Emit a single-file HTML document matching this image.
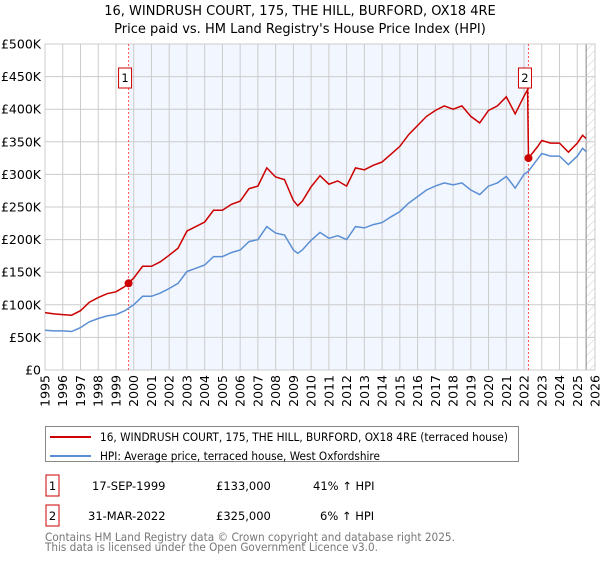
<!DOCTYPE html>
<html><head><meta charset="utf-8"><style>
body{margin:0;background:#fff;width:600px;height:560px;overflow:hidden;font-family:"DejaVu Sans","Liberation Sans",sans-serif}
svg text{font-family:"DejaVu Sans","Liberation Sans",sans-serif}
</style></head><body>
<svg id="c" width="600" height="560" xmlns="http://www.w3.org/2000/svg">
<defs><pattern id="hatch" width="6" height="6" patternUnits="userSpaceOnUse" patternTransform="rotate(45)"><line x1="0" y1="0" x2="0" y2="6" stroke="#ccc" stroke-width="1"/></pattern></defs>
<text x="300" y="15" text-anchor="middle" font-size="13">16, WINDRUSH COURT, 175, THE HILL, BURFORD, OX18 4RE</text>
<text x="300" y="33" text-anchor="middle" font-size="13">Price paid vs. HM Land Registry's House Price Index (HPI)</text>
<g id="plot"></g>
<g>
<rect x="45.5" y="426.5" width="473" height="35" fill="#fff" stroke="#888"/>
<line x1="50" y1="437" x2="91" y2="437" stroke="#cc0000" stroke-width="2"/>
<text x="100" y="441" font-size="11.5" textLength="408" lengthAdjust="spacingAndGlyphs">16, WINDRUSH COURT, 175, THE HILL, BURFORD, OX18 4RE (terraced house)</text>
<line x1="50" y1="456" x2="91" y2="456" stroke="#5b8fd4" stroke-width="2"/>
<text x="100" y="460" font-size="11.5" textLength="280" lengthAdjust="spacingAndGlyphs">HPI: Average price, terraced house, West Oxfordshire</text>
</g>
<g font-size="11.5">
<rect x="46" y="475" width="13" height="21" fill="#fff" stroke="#cc0000"/>
<text x="52.5" y="490" text-anchor="middle">1</text>
<text x="92" y="490">17-SEP-1999</text><text x="216" y="490">£133,000</text><text x="313" y="490">41% ↑ HPI</text>
<rect x="46" y="505" width="13" height="21" fill="#fff" stroke="#cc0000"/>
<text x="52.5" y="520" text-anchor="middle">2</text>
<text x="88" y="520">31-MAR-2022</text><text x="216" y="520">£325,000</text><text x="320" y="520">6% ↑ HPI</text>
</g>
<text x="45" y="541" font-size="11.5" fill="#777" textLength="410" lengthAdjust="spacingAndGlyphs">Contains HM Land Registry data © Crown copyright and database right 2025.</text>
<text x="45" y="551" font-size="11.5" fill="#777" textLength="333" lengthAdjust="spacingAndGlyphs">This data is licensed under the Open Government Licence v3.0.</text>
</svg>
<script>
const hpiYears=[1995,1995.5,1996,1996.5,1997,1997.5,1998,1998.5,1999,1999.5,2000,2000.5,2001,2001.5,2002,2002.5,2003,2003.5,2004,2004.5,2005,2005.5,2006,2006.5,2007,2007.5,2008,2008.5,2009,2009.25,2009.5,2010,2010.5,2011,2011.5,2012,2012.5,2013,2013.5,2014,2014.5,2015,2015.5,2016,2016.5,2017,2017.5,2018,2018.5,2019,2019.5,2020,2020.5,2021,2021.5,2022,2022.25,2022.75,2023,2023.5,2024,2024.5,2025,2025.3,2025.5];
const hpiValues=[61,60,60,59,65,74,79,83,85,91,100,113,113,118,125,133,151,156,161,174,174,180,184,197,200,220,210,207,184,179,184,199,211,202,206,200,220,218,223,226,235,243,256,266,276,282,287,284,287,276,269,282,287,297,279,300,305,323,332,328,328,315,328,340,335];
const propYears=[1995,1995.5,1996,1996.5,1997,1997.5,1998,1998.5,1999,1999.5,2000,2000.5,2001,2001.5,2002,2002.5,2003,2003.5,2004,2004.5,2005,2005.5,2006,2006.5,2007,2007.5,2008,2008.5,2009,2009.25,2009.5,2010,2010.5,2011,2011.5,2012,2012.5,2013,2013.5,2014,2014.5,2015,2015.5,2016,2016.5,2017,2017.5,2018,2018.5,2019,2019.5,2020,2020.5,2021,2021.5,2022,2022.2,2022.25,2022.75,2023,2023.5,2024,2024.5,2025,2025.3,2025.5];
const propValues=[88,86,85,84,91,104,111,117,120,128,141,159,159,166,176,187,213,220,227,245,245,254,259,278,282,310,296,292,260,252,259,281,298,285,290,282,310,307,314,319,331,343,361,375,389,398,405,400,405,389,379,398,405,419,393,420,430,325,342,352,348,348,334,348,360,355];
const sales=[{label:"1",year:1999.71,value:133},{label:"2",year:2022.25,value:325}];
const yTicks=[0,50,100,150,200,250,300,350,400,450,500];
const yTickLabels=["£0","£50K","£100K","£150K","£200K","£250K","£300K","£350K","£400K","£450K","£500K"];
const xTicks=[1995,1996,1997,1998,1999,2000,2001,2002,2003,2004,2005,2006,2007,2008,2009,2010,2011,2012,2013,2014,2015,2016,2017,2018,2019,2020,2021,2022,2023,2024,2025,2026];

const L=45,R=595,T=44,B=370;
const X=y=>L+(y-1995)/(2026-1995)*(R-L);
const Y=v=>B-v/500*(B-T);
const NS="http://www.w3.org/2000/svg";
const g=document.getElementById('plot');
function mk(tag,attrs,parent){const e=document.createElementNS(NS,tag);for(const k in attrs)e.setAttribute(k,attrs[k]);(parent||g).appendChild(e);return e;}

const shade=mk('rect',{x:X(sales[0].year),y:T,width:X(sales[1].year)-X(sales[0].year),height:B-T,fill:'#eef3fd',opacity:0.75});


const hatch=mk('rect',{x:X(2025.5),y:T,width:R-X(2025.5),height:B-T,fill:'url(#hatch)'});


mk('line',{x1:X(2025.5),y1:T,x2:X(2025.5),y2:B,stroke:'#888','stroke-width':1});

yTicks.forEach((v,i)=>{
 const ln=mk('line',{x1:L,x2:R,y1:Y(v),y2:Y(v),stroke:'#ccc','stroke-width':1});
 
 
 const t=mk('text',{x:L-4,y:Y(v)+4.5,'text-anchor':'end','font-size':12.5});
 t.textContent=yTickLabels[i];
 
 
});
xTicks.forEach(yr=>{
 const ln=mk('line',{x1:X(yr),x2:X(yr),y1:T,y2:B,stroke:'#ccc','stroke-width':1});
 
 
 const t=mk('text',{x:0,y:0,'text-anchor':'end','font-size':12.5,transform:`translate(${X(yr)+4.5},${B+5}) rotate(-90)`});
 t.textContent=yr;
 
 
});
mk('rect',{x:L,y:T,width:R-L,height:B-T,fill:'none',stroke:'#ccc'});

sales.forEach(s=>{
 const ln=mk('line',{x1:X(s.year),x2:X(s.year),y1:T,y2:B,stroke:'#f55','stroke-width':1,'stroke-dasharray':'2,2'});
 
 
});

const hp=mk('path',{d:hpiYears.map((y,i)=>(i?'L':'M')+X(y).toFixed(1)+','+Y(hpiValues[i]).toFixed(1)).join(''),fill:'none',stroke:'#5b8fd4','stroke-width':1.5});


const pp=mk('path',{d:propYears.map((y,i)=>(i?'L':'M')+X(y).toFixed(1)+','+Y(propValues[i]).toFixed(1)).join(''),fill:'none',stroke:'#cc0000','stroke-width':1.5});



sales.forEach(s=>{
 const c=mk('circle',{cx:X(s.year),cy:Y(s.value),r:4,fill:'#cc0000'});
 
 
 const bx=mk('rect',{x:X(s.year)-10,y:68,width:13,height:20,fill:'#fff',stroke:'#cc0000'});
 
 
 const t=mk('text',{x:X(s.year)-3.5,y:82,'text-anchor':'middle','font-size':11.5});
 t.textContent=s.label;
 
 
});
</script>
</body></html>
